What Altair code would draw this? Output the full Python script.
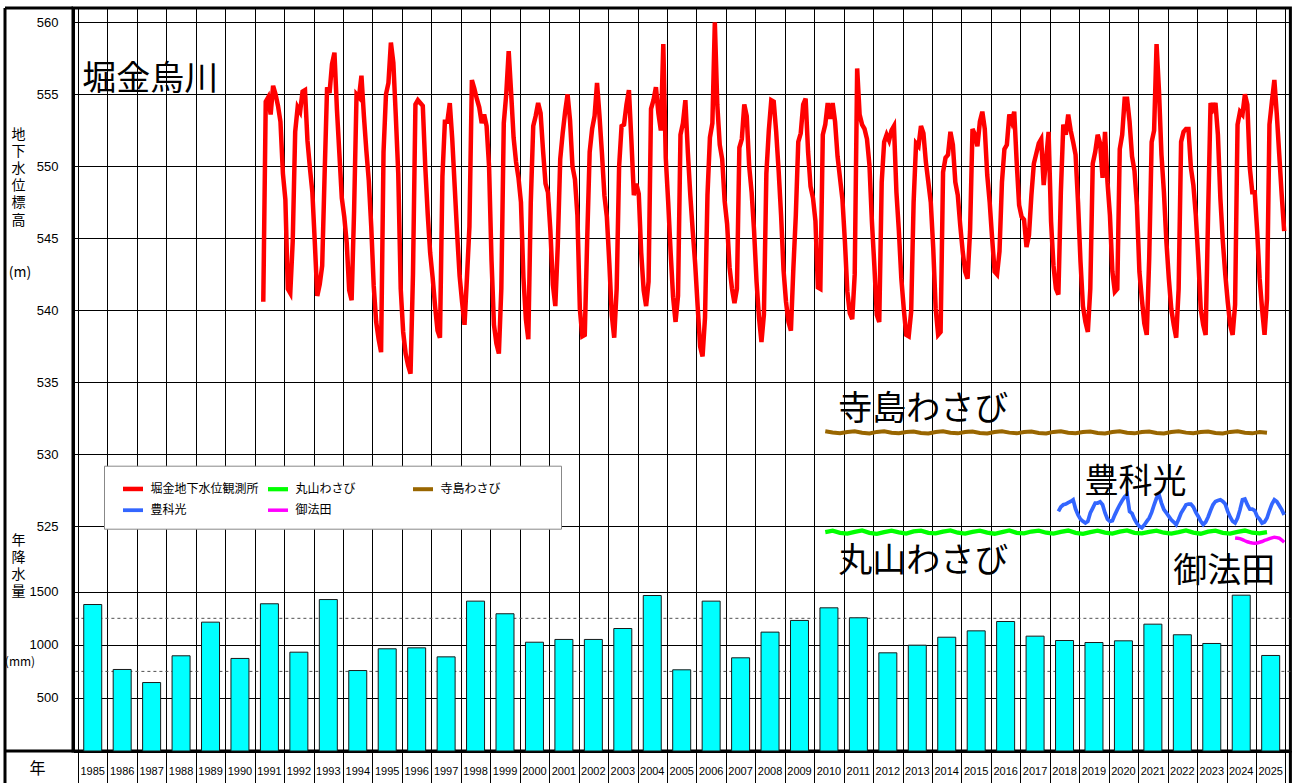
import altair as alt
import pandas as pd

JP = "Noto Sans CJK JP"
NUM = "Liberation Sans"

# ---- annual precipitation (mm) --------------------------------------------
years = list(range(1985, 2026))
precip_mm = [1380, 768, 645, 897, 1214, 872, 1387, 931, 1427, 758,
             963, 972, 887, 1412, 1293, 1025, 1051, 1051, 1154, 1465,
             765, 1412, 878, 1120, 1230, 1349, 1255, 925, 997, 1072,
             1132, 1220, 1082, 1041, 1022, 1038, 1195, 1095, 1013, 1468, 900]
precip_guides = [750, 1250]

# ---- groundwater level (m), monthly, 堀金 from 1991-04 ----------------------
horigane_from = (1991, 4)
horigane = [
    540.6, 554.5, 554.8, 553.6, 555.6, 555.0, 554.2, 553.1, 549.5,                  # 1991
    547.7, 541.5, 541.2, 544.8, 552.4, 554.1, 553.8, 555.2, 555.3, 551.8, 549.9, 548.2,  # 1992
    544.7, 541.0, 541.8, 543.1, 549.5, 555.5, 555.1, 557.1, 557.9, 554.0, 550.9, 547.8,  # 1993
    546.5, 544.7, 541.4, 540.7, 546.9, 555.0, 554.8, 556.3, 553.5, 551.1, 549.0, 545.8,  # 1994
    541.7, 539.2, 538.0, 537.1, 551.0, 555.0, 555.8, 558.6, 557.2, 553.5, 549.5, 541.5,  # 1995
    538.5, 537.0, 536.2, 535.6, 542.5, 554.3, 554.6, 554.4, 554.2, 550.0, 546.7, 544.0,  # 1996
    542.3, 540.3, 538.6, 538.1, 549.3, 553.1, 553.1, 554.4, 551.9, 548.6, 545.3, 542.4,  # 1997
    540.6, 539.0, 542.3, 545.8, 556.0, 555.4, 554.7, 554.1, 553.0, 553.6, 552.8, 550.0,  # 1998
    543.5, 539.0, 537.7, 537.0, 541.5, 553.0, 555.0, 558.0, 555.1, 552.0, 550.3, 549.2,  # 1999
    547.5, 542.3, 539.4, 538.0, 547.5, 552.8, 553.5, 554.4, 553.7, 551.1, 548.8, 548.2,  # 2000
    545.5, 541.8, 540.3, 544.5, 550.5, 552.3, 553.8, 555.0, 553.2, 550.0, 549.1, 546.6,  # 2001
    540.1, 538.2, 538.3, 545.0, 551.0, 552.6, 553.5, 555.8, 553.5, 550.9, 548.0, 546.5,  # 2002
    543.3, 539.7, 538.1, 541.5, 550.0, 552.8, 552.9, 554.3, 555.3, 551.8, 548.0, 548.8,  # 2003
    548.1, 544.0, 541.4, 540.3, 542.0, 554.0, 554.6, 555.5, 553.7, 552.5, 558.5, 550.6,  # 2004
    547.5, 544.0, 540.9, 539.2, 541.0, 552.2, 553.0, 554.6, 551.0, 548.0, 545.5, 543.2,  # 2005
    540.3, 537.5, 536.8, 539.5, 548.0, 552.0, 553.0, 560.0, 554.3, 551.5, 550.5, 547.6,  # 2006
    546.0, 543.0, 541.5, 540.5, 541.5, 551.3, 551.9, 554.3, 553.5, 550.0, 548.2, 545.5,  # 2007
    542.0, 539.5, 537.8, 539.7, 549.5, 552.5, 554.6, 554.5, 552.4, 549.7, 546.6, 542.8,  # 2008
    540.6, 539.2, 538.6, 542.9, 546.6, 551.7, 552.3, 554.3, 554.7, 551.0, 548.6, 547.8,  # 2009
    546.2, 541.6, 541.5, 552.2, 552.9, 554.4, 553.3, 554.4, 553.1, 550.7, 549.2, 547.7,  # 2010
    544.8, 541.3, 539.8, 539.4, 542.5, 556.8, 553.6, 552.9, 552.6, 551.9, 550.1, 546.2,  # 2011
    543.1, 539.7, 539.2, 548.9, 551.7, 552.2, 551.8, 552.5, 552.8, 548.2, 545.5, 542.2,  # 2012
    540.1, 538.3, 538.2, 539.9, 547.5, 551.6, 551.4, 552.8, 552.3, 550.3, 548.9, 547.5,  # 2013
    544.3, 540.1, 538.3, 538.5, 549.6, 550.6, 550.8, 552.4, 551.5, 548.9, 548.0, 545.9,  # 2014
    544.1, 542.7, 542.2, 545.5, 552.6, 552.2, 551.4, 553.1, 553.8, 552.6, 549.4, 547.5,  # 2015
    545.0, 542.7, 542.5, 544.1, 548.9, 551.2, 551.5, 553.6, 553.1, 553.8, 550.3, 547.3,  # 2016
    546.5, 546.3, 544.4, 545.2, 548.0, 550.2, 550.9, 551.6, 551.9, 548.7, 550.5, 552.4,  # 2017
    546.2, 543.1, 541.5, 541.1, 548.2, 552.9, 552.2, 553.6, 552.5, 551.7, 550.8, 547.5,  # 2018
    543.4, 540.3, 539.2, 538.5, 541.5, 550.2, 551.0, 552.2, 551.6, 549.2, 552.4, 548.9,  # 2019
    546.6, 542.7, 541.3, 541.5, 551.2, 552.2, 554.7, 554.7, 553.1, 550.7, 549.7, 547.3,  # 2020
    542.7, 540.8, 539.1, 538.3, 543.6, 551.7, 552.5, 558.5, 555.2, 550.8, 548.2, 544.8,  # 2021
    542.2, 540.1, 539.0, 538.1, 541.5, 551.7, 552.4, 552.6, 552.6, 549.9, 548.7, 546.6,  # 2022
    543.6, 540.1, 539.0, 538.3, 546.6, 554.4, 554.0, 554.4, 552.2, 547.8, 544.8, 542.5,  # 2023
    540.6, 539.0, 538.3, 540.4, 552.9, 553.8, 553.6, 555.0, 554.3, 549.9, 548.2, 548.2,  # 2024
    545.5, 542.2, 540.1, 538.3, 540.8, 552.9, 554.5, 556.0, 553.6, 550.8, 548.0, 545.5,  # 2025
]

# 丸山わさび / 寺島わさび: quarterly readings from 2010-05
maruyama_from = (2010, 5)
maruyama = [524.60, 524.70, 524.55,
            524.50, 524.62, 524.72, 524.55, 524.48, 524.60, 524.70, 524.58,
            524.50, 524.65, 524.70, 524.55, 524.52, 524.63, 524.72, 524.56,
            524.50, 524.62, 524.70, 524.57, 524.49, 524.60, 524.72, 524.55,
            524.52, 524.64, 524.70, 524.56, 524.50, 524.62, 524.71, 524.55,
            524.48, 524.60, 524.70, 524.57, 524.50, 524.63, 524.72, 524.55,
            524.52, 524.62, 524.70, 524.56, 524.50, 524.60, 524.72, 524.57,
            524.49, 524.63, 524.70, 524.55, 524.50, 524.62, 524.71, 524.56,
            524.52, 524.60]
terashima_from = (2010, 5)
terashima = [531.60, 531.52, 531.47,
             531.55, 531.60, 531.50, 531.45, 531.56, 531.60, 531.50, 531.47,
             531.55, 531.58, 531.48, 531.45, 531.55, 531.60, 531.50, 531.46,
             531.56, 531.59, 531.49, 531.45, 531.55, 531.60, 531.51, 531.46,
             531.55, 531.58, 531.48, 531.45, 531.56, 531.60, 531.50, 531.47,
             531.55, 531.59, 531.49, 531.45, 531.55, 531.60, 531.50, 531.46,
             531.56, 531.58, 531.48, 531.45, 531.55, 531.60, 531.51, 531.47,
             531.55, 531.59, 531.49, 531.45, 531.56, 531.60, 531.50, 531.46,
             531.55, 531.50]

# 豊科光: monthly from 2018-04
toyoshina_from = (2018, 4)
toyoshina = [
    526.04, 526.35, 526.50, 526.55, 526.65, 526.73, 526.85, 526.20, 525.80,          # 2018
    525.50, 525.35, 525.23, 525.35, 525.93, 526.27, 526.62, 526.62, 526.70, 526.50, 525.93, 525.50,  # 2019
    525.35, 525.40, 525.80, 526.16, 526.50, 526.80, 527.05, 527.20, 526.04, 525.90, 525.50, 525.20,  # 2020
    525.00, 524.90, 525.10, 525.35, 525.58, 525.97, 526.50, 526.97, 527.20, 526.62, 526.16, 525.93,  # 2021
    525.70, 525.46, 525.30, 525.12, 525.50, 525.93, 526.20, 526.50, 526.55, 526.55, 526.35, 525.97,  # 2022
    525.69, 525.35, 525.12, 525.30, 525.65, 526.10, 526.50, 526.73, 526.80, 526.85, 526.73, 526.55,  # 2023
    526.04, 525.65, 525.35, 525.23, 525.58, 526.16, 526.85, 526.90, 526.50, 526.20, 526.20, 526.10,  # 2024
    525.69, 525.50, 525.23, 525.30, 525.58, 526.10, 526.55, 526.85, 526.73, 526.45, 526.16, 525.80,  # 2025
]

# 御法田: monthly from 2024-04
gohoden_from = (2024, 4)
gohoden = [524.20, 524.18, 524.15, 524.08, 524.00, 523.93, 523.88, 523.85, 523.83,
           523.85, 523.90, 523.95, 524.03, 524.08, 524.15, 524.20, 524.25, 524.22,
           524.18, 524.05, 523.90]

series_names = ["堀金地下水位観測所", "丸山わさび", "寺島わさび", "豊科光", "御法田"]
series_colors = ["#FF0000", "#00FF00", "#996600", "#3366FF", "#FF00FF"]
series_widths = [4.5, 3.5, 3.2, 3.5, 3.2]

# site captions drawn inside the plot (decimal year, level)
captions = ["堀金烏川", "寺島わさび", "豊科光", "丸山わさび", "御法田"]
caption_t = [1987.45, 2013.70, 2020.91, 2013.70, 2023.92]
caption_v = [555.98, 533.09, 528.03, 522.55, 521.86]


def series_rows(name, start, values, step=1):
    y0, m0 = start
    rows = []
    for i, v in enumerate(values):
        k = (m0 - 1) + i * step
        yr, mo = y0 + k // 12, k % 12 + 1
        rows.append({"series": name, "t": yr + (mo - 0.5) / 12, "v": v})
    return rows


level_df = pd.DataFrame(
    series_rows(series_names[0], horigane_from, horigane)
    + series_rows(series_names[1], maruyama_from, maruyama, step=3)
    + series_rows(series_names[2], terashima_from, terashima, step=3)
    + series_rows(series_names[3], toyoshina_from, toyoshina)
    + series_rows(series_names[4], gohoden_from, gohoden)
)
precip_df = pd.DataFrame({"t": [y + 0.5 for y in years], "mm": precip_mm,
                          "year": [str(y) for y in years]})
guide_df = pd.DataFrame({"mm": precip_guides})
caption_df = pd.DataFrame({"label": captions, "t": caption_t, "v": caption_v})

# ---- scales and axes --------------------------------------------------------
x_scale = alt.Scale(domain=[1985, 2026], nice=False, zero=False)
x_axis = alt.Axis(
    values=list(range(1985, 2027)),
    grid=True, gridColor="#000", gridWidth=1, gridOpacity=1,
    ticks=True, tickSize=32, tickColor="#000", tickWidth=1,
    domain=True, domainColor="#000", domainWidth=3,
    labels=False,
    title="年", titleX=-36, titleY=17, titleFont=JP, titleFontSize=16,
    titleFontWeight="normal", titleColor="#000", titleBaseline="middle",
    titleAlign="center", titleAngle=0,
)

level_scale = alt.Scale(domain=[509.4, 561], nice=False, zero=False)
level_axis = alt.Axis(
    orient="left", values=[525, 530, 535, 540, 545, 550, 555, 560], format="d",
    grid=True, gridColor="#000", gridWidth=1, gridOpacity=1,
    ticks=False, domain=True, domainColor="#000", domainWidth=3,
    labelPadding=15, labelFont=NUM, labelFontSize=13, labelColor="#000",
    title=["地", "下", "水", "位", "標", "高"], titleAngle=0,
    titleX=-55, titleY=119, titleBaseline="top", titleAlign="center",
    titleFont=JP, titleFontSize=14, titleLineHeight=17.2,
    titleFontWeight="normal", titleColor="#000",
)

precip_scale = alt.Scale(domain=[0, 7000], nice=False, zero=True)
precip_axis = alt.Axis(
    orient="left", values=[500, 1000, 1500], format="d",
    grid=True, gridColor="#000", gridWidth=1, gridOpacity=1,
    ticks=False, domain=False,
    labelPadding=15, labelFont=NUM, labelFontSize=13, labelColor="#000",
    title=["年", "降", "水", "量"], titleAngle=0,
    titleX=-55, titleY=525, titleBaseline="top", titleAlign="center",
    titleFont=JP, titleFontSize=14, titleLineHeight=17.2,
    titleFontWeight="normal", titleColor="#000",
)

# ---- precipitation panel ----------------------------------------------------
bars = alt.Chart(precip_df).mark_bar(
    size=18, color="#00FFFF", stroke="#1a1a1a", strokeWidth=1
).encode(
    x=alt.X("t:Q", scale=x_scale, axis=x_axis),
    y=alt.Y("mm:Q", scale=precip_scale, axis=precip_axis),
)
guides = alt.Chart(guide_df).mark_rule(
    color="#505050", strokeWidth=1, strokeDash=[3, 3]
).encode(y=alt.Y("mm:Q", scale=precip_scale, axis=precip_axis))
# year captions in the row under the plot, centred in each year column
year_labels = alt.Chart(precip_df).mark_text(
    font=NUM, fontSize=11, color="#000", baseline="middle"
).encode(
    x=alt.X("t:Q", scale=x_scale, axis=x_axis),
    y=alt.value(763.7),
    text="year:N",
)
precip_layer = alt.layer(guides, bars, year_labels)

# ---- groundwater panel ------------------------------------------------------
lines = alt.Chart(level_df).mark_line(interpolate="linear").encode(
    x=alt.X("t:Q", scale=x_scale, axis=x_axis),
    y=alt.Y("v:Q", scale=level_scale, axis=level_axis),
    color=alt.Color(
        "series:N",
        scale=alt.Scale(domain=series_names, range=series_colors),
        sort=series_names,
        legend=alt.Legend(
            orient="none", legendX=31, legendY=457.7, columns=3,
            direction="horizontal",
            title=" ", titleOrient="right", titlePadding=50,
            symbolType="stroke", symbolStrokeWidth=4, symbolSize=400,
            symbolOffset=6,
            labelFont=JP, labelFontSize=12, labelColor="#000", labelOffset=5,
            columnPadding=0, rowPadding=0, gridAlign="all", padding=10.5,
            fillColor="#FFFFFF", strokeColor="#888888",
        ),
    ),
    strokeWidth=alt.StrokeWidth(
        "series:N", scale=alt.Scale(domain=series_names, range=series_widths),
        legend=None,
    ),
    detail="series:N",
)
caption_marks = alt.Chart(caption_df).mark_text(
    font=JP, fontSize=34, color="#000", align="center", baseline="middle"
).encode(
    x=alt.X("t:Q", scale=x_scale, axis=x_axis),
    y=alt.Y("v:Q", scale=level_scale, axis=level_axis),
    text="label:N",
)
level_layer = alt.layer(lines, caption_marks)

# ---- units and outer frame --------------------------------------------------
unit_m = alt.Chart().mark_text(font=JP, fontSize=14, color="#000").encode(
    x=alt.value(-53), y=alt.value(265), text=alt.value("(m)"))
unit_mm = alt.Chart().mark_text(font=JP, fontSize=12, color="#000").encode(
    x=alt.value(-53), y=alt.value(654), text=alt.value("(mm)"))
frame_top = alt.Chart().mark_rule(color="#000", strokeWidth=3).encode(
    x=alt.value(-68), x2=alt.value(0), y=alt.value(0))
frame_left = alt.Chart().mark_rule(color="#000", strokeWidth=3).encode(
    x=alt.value(-68), y=alt.value(0), y2=alt.value(775))
frame_mid = alt.Chart().mark_rule(color="#000", strokeWidth=3).encode(
    x=alt.value(-68), x2=alt.value(0), y=alt.value(743))
frame_right = alt.Chart().mark_rule(color="#000", strokeWidth=3).encode(
    x=alt.value(1217.4), y=alt.value(743), y2=alt.value(775))

chart = alt.layer(
    precip_layer, level_layer, unit_m, unit_mm,
    frame_top, frame_left, frame_mid, frame_right,
).resolve_scale(
    y="independent"
).properties(
    width=1217.4, height=743,
    padding={"left": 73, "top": 8, "right": 7.6, "bottom": 32},
    autosize=alt.AutoSizeParams(type="none"),
    background="#FFFFFF",
).configure_view(
    stroke="#000", strokeWidth=3
)

chart.save("out.html", embed_options={"renderer": "svg", "actions": False})
